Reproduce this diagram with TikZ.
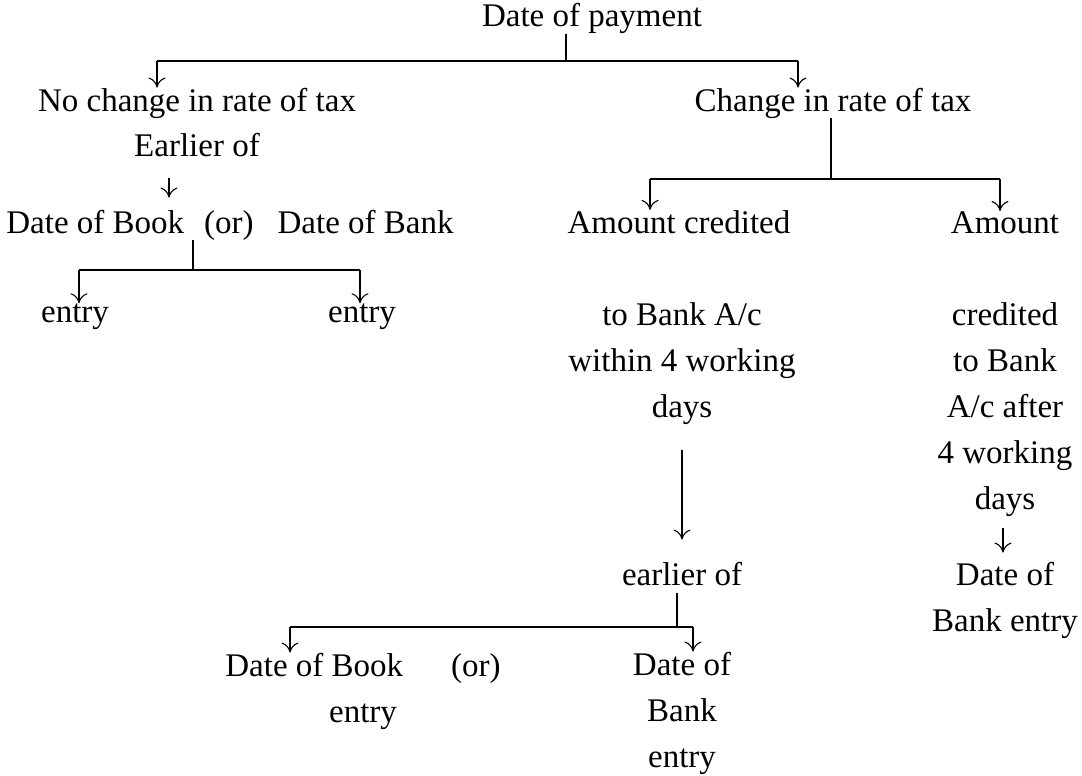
\documentclass[tikz,border=0pt]{standalone}
\usepackage{fontspec}
\setmainfont{Liberation Serif}
\usetikzlibrary{arrows.meta}

\tikzset{
  lbl/.style={inner sep=0pt, anchor=base, align=center, font=\fontsize{33}{46}\selectfont},
  bar/.style={line width=1.7pt},
  arr/.style={line width=1.1pt, -{To[length=10pt,width=17pt]}}
}

\begin{document}
\begin{tikzpicture}[x=1pt,y=-1pt]
\useasboundingbox (0,0) rectangle (1082,776);
\node[lbl] (pay) at (592,27) {Date of payment};
\node[lbl] (nochg) at (197,111) {No change in rate of tax};
\node[lbl] (earl) at (197,156) {Earlier of};
\node[lbl] (bookbank) at (230,233) {Date of Book\hspace{20pt}(or)\hspace{24pt}Date of Bank};
\node[lbl] (ent1) at (75,322) {entry};
\node[lbl] (ent2) at (362,322) {entry};
\node[lbl] (chg) at (833,111) {Change in rate of tax};
\node[lbl] (amtcr) at (679,233) {Amount credited};
\node[lbl] (amt) at (1005,233) {Amount};
\node[lbl] (within) at (682,417) {to Bank A/c\\within 4 working\\days};
\node[lbl] (after) at (1005,509) {credited\\to Bank\\A/c after\\4 working\\days};
\node[lbl] (bankdate) at (1005,631) {Date of\\Bank entry};
\node[lbl] (earl2) at (682,585) {earlier of};
\node[lbl] (bookor) at (363,722) {Date of Book\hspace{48pt}(or)\\entry};
\node[lbl] (bankent) at (682,767) {Date of\\Bank\\entry};
\coordinate (j1) at (566,61);
\coordinate (a1) at (157,61);
\coordinate (a2) at (798,61);
\draw[bar] (pay.south -| j1) -- (j1);
\draw[bar] (a1) -- (a2);
\draw[arr] (a1) -- (nochg.north -| a1);
\draw[arr] (a2) -- (chg.north -| a2);
\draw[arr, shorten <=21pt, shorten >=12pt] (earl.south -| 169,0) -- (bookbank.north -| 169,0);
\coordinate (j2) at (193,270);
\coordinate (b1) at (79,270);
\coordinate (b2) at (360,270);
\draw[bar] (bookbank.south -| j2) -- (j2);
\draw[bar] (b1) -- (b2);
\draw[arr] (b1) -- (ent1.north -| b1);
\draw[arr] (b2) -- (ent2.north -| b2);
\coordinate (j3) at (831,179);
\coordinate (c1) at (650,179);
\coordinate (c2) at (1000,179);
\draw[bar] (chg.south -| j3) -- (j3);
\draw[bar] (c1) -- (c2);
\draw[arr] (c1) -- (amtcr.north -| c1);
\draw[arr] (c2) -- (amt.north -| c2);
\draw[arr, shorten <=26pt, shorten >=22pt] (within.south) -- (earl2.north);
\draw[arr, shorten <=12pt, shorten >=9pt] (after.south -| 1003,0) -- (bankdate.north -| 1003,0);
\coordinate (j4) at (677,627);
\coordinate (d1) at (290,627);
\coordinate (d2) at (693,627);
\draw[bar, shorten <=7pt] (earl2.south -| j4) -- (j4);
\draw[bar] (d1) -- (d2);
\draw[arr] (d1) -- (bookor.north -| d1);
\draw[arr] (d2) -- (bankent.north -| d2);
\end{tikzpicture}
\end{document}
